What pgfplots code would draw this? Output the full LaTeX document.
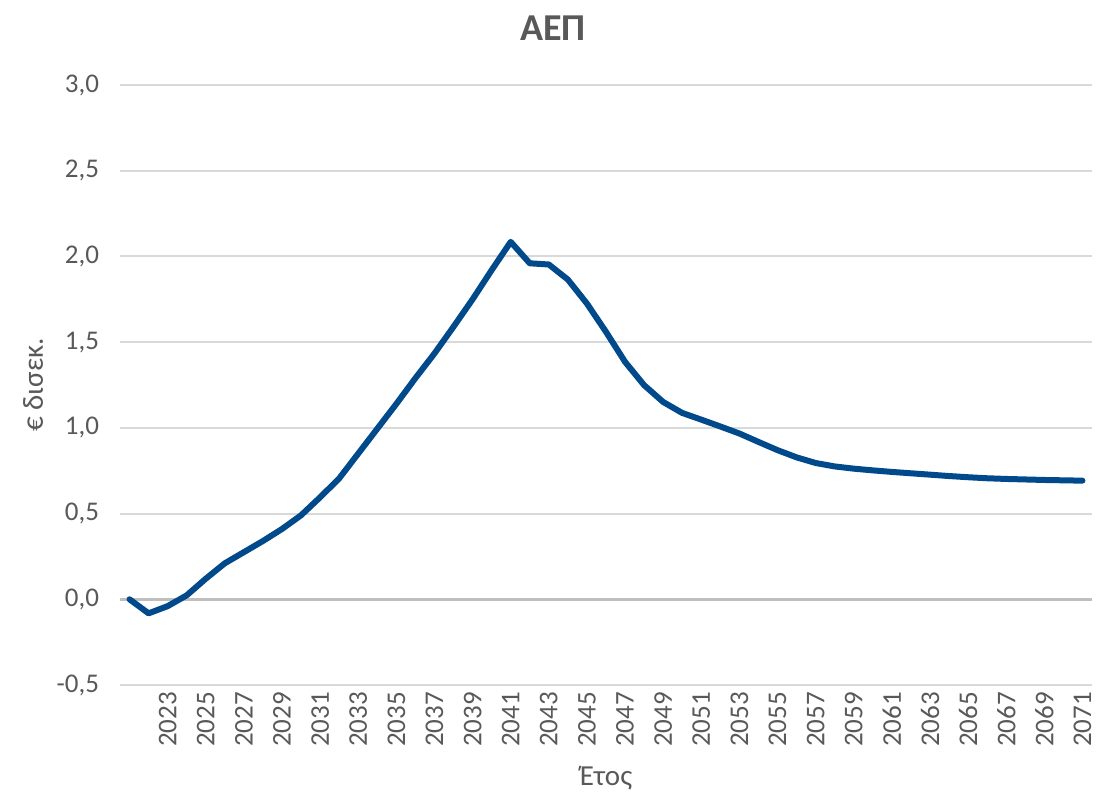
\documentclass[border=0pt]{standalone}
\usepackage{pgfplots}
\pgfplotsset{compat=1.18}
\usepackage{fontspec}
\setmainfont{Carlito}
\definecolor{txt}{HTML}{595959}
\definecolor{gridc}{HTML}{D9D9D9}
\definecolor{zeroc}{HTML}{BFBFBF}
\definecolor{gdp}{RGB}{0,74,140}
\begin{document}
\begin{tikzpicture}
\useasboundingbox (-60pt,-54.5pt) rectangle (494pt,342.5pt);
\begin{axis}[scale only axis,width=486pt,height=300pt,
  at={(0,0)},anchor=south west,
  xmin=2020.5,xmax=2071.5,ymin=-0.5,ymax=3,
  xtick={2023,2025,...,2071},ytick={-0.5,0,...,3},
  axis line style={draw=none},tick style={draw=none},
  ymajorgrids,grid style={gridc,line width=1pt},
  font=\fontsize{13.5}{16}\selectfont,
  every tick label/.append style={txt},
  /pgf/number format/assume math mode=true,
  /pgf/number format/1000 sep={},
  yticklabel style={xshift=-7pt,/pgf/number format/.cd,fixed,fixed zerofill,precision=1,use comma},
  xticklabel style={rotate=90,anchor=east,xshift=0pt},
  ylabel={€ δισεκ.},xlabel={Έτος},
  label style={txt,font=\fontsize{14.5}{17}\selectfont},
  ylabel style={at={(axis description cs:-0.0895,0.5)},anchor=center},
  xlabel style={at={(axis description cs:0.5,-0.155)},anchor=center},
  clip=false]
\addplot[zeroc,line width=1.5pt,forget plot] coordinates {(2020.5,0)(2071.5,0)};
\addplot[gdp,line width=3pt,line join=round,line cap=round] coordinates {
(2021,0.000)(2022,-0.082)(2023,-0.040)(2024,0.023)(2025,0.120)(2026,0.210)
(2027,0.275)(2028,0.340)(2029,0.410)(2030,0.490)(2031,0.595)(2032,0.705)
(2033,0.850)(2034,0.995)(2035,1.140)(2036,1.290)(2037,1.434)(2038,1.590)
(2039,1.750)(2040,1.920)(2041,2.085)(2042,1.960)(2043,1.953)(2044,1.865)
(2045,1.725)(2046,1.560)(2047,1.385)(2048,1.249)(2049,1.151)(2050,1.087)
(2051,1.048)(2052,1.008)(2053,0.967)(2054,0.918)(2055,0.870)(2056,0.828)
(2057,0.795)(2058,0.775)(2059,0.762)(2060,0.752)(2061,0.743)(2062,0.735)
(2063,0.727)(2064,0.719)(2065,0.712)(2066,0.706)(2067,0.702)(2068,0.699)
(2069,0.696)(2070,0.694)(2071,0.692)};
\end{axis}
\node[txt,font=\fontsize{19}{22}\selectfont\bfseries] at (216.5pt,328.5pt) {ΑΕΠ};
\end{tikzpicture}
\end{document}
